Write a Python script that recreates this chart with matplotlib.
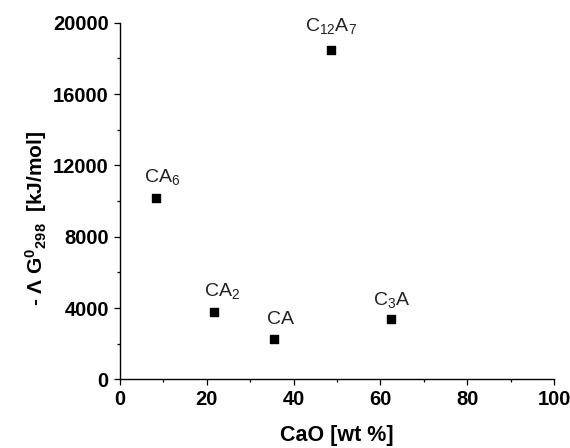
import matplotlib
matplotlib.use('Agg')
import matplotlib.pyplot as plt
from matplotlib.ticker import MultipleLocator

plt.rcParams['font.family'] = ['Liberation Sans', 'DejaVu Sans']
plt.rcParams['mathtext.fontset'] = 'custom'
plt.rcParams['mathtext.rm'] = 'Liberation Sans'
plt.rcParams['mathtext.it'] = 'Liberation Sans:italic'
plt.rcParams['mathtext.bf'] = 'Liberation Sans:bold'

# phases: CaO content [wt %] vs -dG0_298 [kJ/mol]
phases = [r'CA$_6$', r'C$_{12}$A$_7$', r'CA$_2$', 'CA', r'C$_3$A']
cao_wt = [8.4, 48.6, 21.6, 35.5, 62.4]
neg_dg = [10180, 18470, 3780, 2240, 3380]
# label offsets (pixels) relative to each point
label_dx = [6, 0, 8, 6, 1]
label_dy = [11, 14, 11, 11, 9]

fig = plt.figure(figsize=(5.7, 4.48), dpi=100)
ax = fig.add_axes([0.2105, 0.1533, 0.7614, 0.796])

ax.scatter(cao_wt, neg_dg, marker='s', s=38, color='black', zorder=3)
for name, x, y, dx, dy in zip(phases, cao_wt, neg_dg, label_dx, label_dy):
    ax.annotate(name, (x, y), xytext=(dx, dy), textcoords='offset pixels',
                ha='center', va='bottom', fontsize=14, color='#222222')

ax.set_xlim(0, 100)
ax.set_ylim(0, 20000)
ax.xaxis.set_major_locator(MultipleLocator(20))
ax.xaxis.set_minor_locator(MultipleLocator(10))
ax.yaxis.set_major_locator(MultipleLocator(4000))
ax.yaxis.set_minor_locator(MultipleLocator(2000))

for side in ['top', 'right']:
    ax.spines[side].set_visible(False)
for side in ['left', 'bottom']:
    ax.spines[side].set_linewidth(1.0)

ax.tick_params(which='major', direction='out', length=4, width=0.9,
               labelsize=14.5, pad=4)
ax.tick_params(which='minor', direction='out', length=2.2, width=0.9)
for lab in ax.get_xticklabels() + ax.get_yticklabels():
    lab.set_fontweight('bold')

ax.set_xlabel('CaO [wt %]', fontsize=15.5, fontweight='bold', labelpad=11)
ax.set_ylabel(r'- Λ G$^{\mathbf{0}}$$_{\mathbf{298}}$  [kJ/mol]', fontsize=15,
              fontweight='bold')
ax.yaxis.set_label_coords(-0.163, 0.45)

fig.savefig('out.png', dpi=100)
